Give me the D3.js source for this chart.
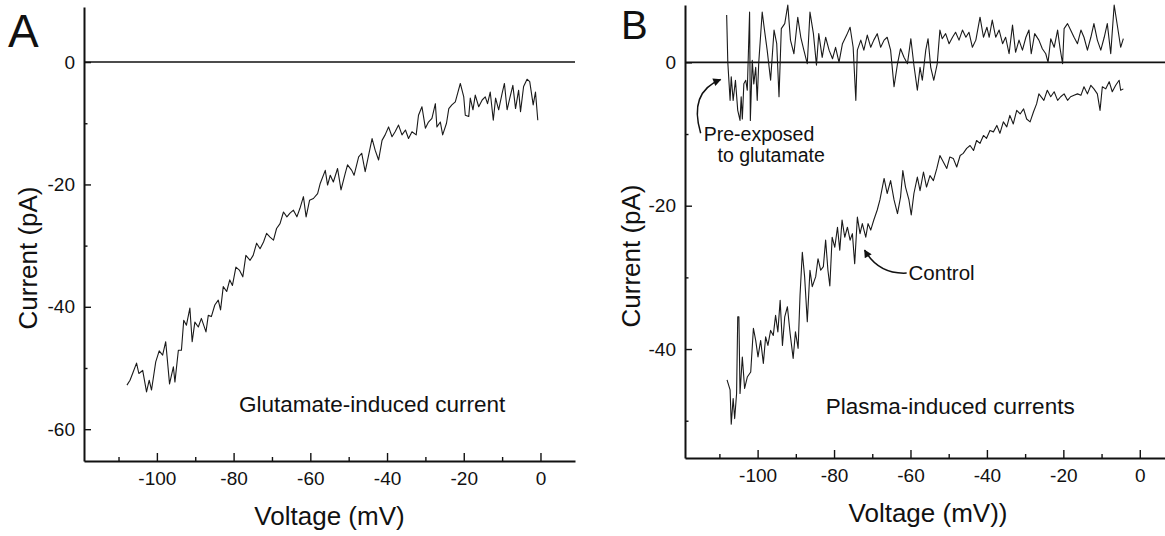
<!DOCTYPE html>
<html>
<head>
<meta charset="utf-8">
<script src="https://cdn.jsdelivr.net/npm/d3@7"></script>
<style>
  body { margin: 0; background: #fff; }
  svg text { font-family: "Liberation Sans", Arial, Helvetica, sans-serif; fill: #111; }
</style>
</head>
<body>
<div id="chart"></div>
<script>
// I-V traces: [voltage (mV), current (pA)]
const glutamateTrace = [
  [-107.8,-52.8],[-107.0,-52.0],[-106.2,-50.7],[-105.3,-49.2],[-104.7,-50.9],[-103.7,-50.4],
  [-102.7,-53.9],[-102.0,-52.0],[-101.4,-53.6],[-100.3,-49.0],[-99.4,-47.2],[-98.5,-47.9],
  [-97.7,-45.7],[-96.7,-52.6],[-95.7,-49.8],[-95.3,-52.3],[-94.4,-47.1],[-93.6,-47.1],
  [-93.0,-42.2],[-92.3,-43.0],[-91.4,-40.2],[-90.8,-45.7],[-90.1,-42.5],[-89.2,-43.3],
  [-88.4,-41.9],[-87.2,-44.1],[-86.6,-41.4],[-85.8,-41.6],[-84.9,-39.7],[-84.0,-38.9],
  [-83.4,-40.5],[-82.7,-36.7],[-81.8,-37.5],[-81.0,-35.6],[-80.3,-36.5],[-79.4,-33.5],
  [-78.5,-34.0],[-77.6,-35.1],[-76.8,-31.6],[-75.7,-32.4],[-74.9,-31.6],[-74.0,-29.6],
  [-73.1,-30.5],[-72.2,-29.4],[-71.4,-28.0],[-70.5,-28.6],[-69.6,-29.1],[-68.8,-27.2],
  [-67.9,-26.4],[-67.0,-24.5],[-66.1,-25.3],[-65.3,-24.7],[-64.4,-24.2],[-63.5,-25.3],
  [-62.7,-23.9],[-61.8,-22.0],[-61.1,-25.3],[-60.2,-22.6],[-59.2,-22.3],[-58.1,-21.5],
  [-57.4,-19.8],[-56.1,-17.7],[-55.5,-20.1],[-54.8,-18.5],[-54.0,-19.6],[-52.9,-17.4],
  [-52.0,-20.9],[-50.9,-18.2],[-50.3,-16.8],[-49.2,-17.7],[-48.6,-18.5],[-47.4,-15.5],
  [-46.6,-14.9],[-45.7,-17.9],[-44.8,-15.2],[-43.9,-12.5],[-43.1,-14.4],[-42.2,-16.0],
  [-41.3,-12.8],[-40.5,-11.9],[-39.6,-10.6],[-38.7,-12.2],[-37.9,-11.4],[-37.0,-10.3],
  [-36.1,-11.9],[-35.2,-11.1],[-34.4,-12.5],[-33.5,-11.4],[-32.4,-11.9],[-31.8,-8.7],
  [-30.9,-7.3],[-30.0,-10.8],[-29.2,-9.8],[-28.3,-9.2],[-27.4,-6.8],[-27.0,-10.6],
  [-26.1,-9.8],[-25.5,-11.9],[-24.5,-10.0],[-23.9,-7.6],[-23.1,-7.0],[-22.2,-6.5],
  [-21.6,-5.1],[-20.9,-3.5],[-20.0,-5.7],[-19.6,-8.7],[-18.7,-8.9],[-18.3,-5.9],
  [-17.6,-7.8],[-17.0,-5.4],[-16.1,-7.3],[-15.2,-6.2],[-14.4,-5.7],[-13.8,-6.8],
  [-13.1,-4.9],[-12.3,-9.5],[-11.7,-5.9],[-10.9,-7.8],[-10.0,-5.1],[-9.4,-3.5],
  [-8.7,-7.8],[-8.0,-5.9],[-7.2,-3.8],[-6.5,-7.6],[-5.7,-4.6],[-5.2,-8.1],
  [-4.4,-4.0],[-3.5,-2.8],[-2.8,-3.2],[-1.9,-7.0],[-1.3,-4.9],[-0.7,-9.5]
];

const preExposedTrace = [
  [-108.1,6.6],[-107.8,0.0],[-107.2,-5.3],[-106.9,-2.0],[-106.4,-5.3],[-105.8,-2.5],
  [-105.2,-6.7],[-104.6,-8.1],[-104.3,-4.8],[-104.0,-7.9],[-103.6,-3.0],[-103.1,-2.5],
  [-102.7,-3.9],[-102.1,7.0],[-101.9,-8.1],[-101.4,0.3],[-101.0,-3.0],[-100.5,-0.7],
  [-100.1,-5.3],[-99.7,0.0],[-98.8,7.0],[-98.2,4.5],[-97.5,1.7],[-96.6,-2.5],
  [-95.7,4.5],[-95.0,2.6],[-94.4,-4.8],[-93.8,4.7],[-92.9,5.4],[-92.1,8.0],
  [-91.4,3.1],[-90.5,1.2],[-89.5,6.3],[-88.7,3.5],[-87.9,1.7],[-87.0,-0.2],
  [-86.3,7.0],[-85.4,4.0],[-84.6,-0.4],[-84.0,4.0],[-83.1,0.7],[-82.2,3.5],
  [-81.3,1.7],[-80.4,0.5],[-79.6,2.1],[-78.7,0.0],[-77.8,2.6],[-76.7,3.8],
  [-75.8,4.9],[-75.0,2.1],[-74.3,-5.3],[-73.9,1.7],[-73.0,3.1],[-72.2,1.7],
  [-71.3,3.8],[-70.4,2.1],[-69.6,3.1],[-68.7,4.0],[-67.8,2.1],[-66.9,3.1],
  [-66.1,3.5],[-65.2,1.7],[-64.3,-3.4],[-63.4,-0.2],[-62.6,1.9],[-61.7,0.7],
  [-60.8,-0.2],[-59.9,3.3],[-59.1,-0.4],[-58.2,-3.9],[-57.5,-0.7],[-56.9,-2.5],
  [-56.0,1.7],[-55.4,3.3],[-54.7,-0.7],[-53.9,-2.5],[-53.0,-0.2],[-52.3,4.5],
  [-51.7,3.3],[-50.8,4.0],[-49.9,2.6],[-49.0,3.5],[-48.2,4.2],[-47.3,3.1],
  [-46.4,4.5],[-45.5,3.5],[-44.7,4.2],[-43.8,2.1],[-42.9,3.1],[-41.8,6.3],
  [-40.9,3.5],[-40.0,4.9],[-39.4,3.5],[-38.6,5.9],[-37.7,3.5],[-36.8,4.5],
  [-35.9,2.6],[-35.1,3.5],[-34.2,1.2],[-33.3,5.2],[-32.5,1.4],[-31.6,3.1],
  [-30.7,1.7],[-29.8,3.5],[-29.0,4.5],[-28.4,1.2],[-27.5,4.0],[-26.4,3.1],
  [-25.5,1.9],[-24.6,1.2],[-24.0,0.0],[-23.3,3.3],[-22.4,2.1],[-21.5,4.5],
  [-20.9,2.1],[-20.2,-0.2],[-19.8,4.7],[-18.9,5.4],[-18.1,4.5],[-17.2,3.5],
  [-16.3,2.6],[-15.4,4.5],[-14.6,3.5],[-13.7,1.7],[-12.8,3.5],[-12.0,5.4],
  [-11.1,3.1],[-10.2,1.7],[-9.3,3.5],[-8.5,5.4],[-7.6,1.2],[-6.7,8.0],
  [-5.8,4.9],[-5.0,2.1],[-4.3,3.3]
];

const controlTrace = [
  [-108.0,-44.3],[-107.2,-45.7],[-106.9,-50.5],[-106.4,-46.9],[-106.0,-49.7],[-105.5,-46.2],
  [-105.2,-35.5],[-104.9,-35.5],[-104.6,-46.2],[-104.0,-41.1],[-103.4,-45.5],[-102.7,-43.9],
  [-101.8,-43.2],[-101.1,-37.1],[-100.5,-38.8],[-99.9,-41.1],[-99.2,-38.8],[-98.5,-42.0],
  [-97.9,-38.3],[-97.3,-39.5],[-96.6,-37.4],[-95.9,-38.1],[-95.3,-35.3],[-94.7,-37.6],
  [-94.1,-33.2],[-93.5,-39.5],[-92.9,-35.5],[-92.2,-34.1],[-91.5,-37.8],[-90.7,-41.3],
  [-90.1,-37.6],[-89.4,-39.9],[-88.9,-32.5],[-88.3,-26.5],[-87.7,-29.9],[-87.0,-36.2],
  [-86.3,-29.0],[-85.7,-31.3],[-84.8,-29.9],[-84.2,-27.4],[-83.5,-29.0],[-82.8,-28.5],
  [-82.2,-24.8],[-81.6,-29.0],[-81.1,-31.2],[-80.5,-24.4],[-79.8,-25.8],[-79.1,-23.0],
  [-78.5,-26.2],[-77.9,-22.0],[-77.2,-24.4],[-76.5,-23.0],[-75.8,-24.8],[-75.2,-23.9],
  [-74.6,-28.1],[-73.9,-21.6],[-73.2,-23.9],[-72.6,-22.5],[-71.7,-24.4],[-71.1,-22.5],
  [-70.4,-23.4],[-69.6,-22.0],[-68.7,-20.6],[-68.0,-19.2],[-66.9,-16.2],[-66.1,-18.3],
  [-65.2,-16.5],[-64.3,-19.2],[-63.4,-21.1],[-62.6,-18.8],[-62.0,-15.1],[-61.3,-17.4],
  [-60.4,-19.2],[-59.8,-21.3],[-59.1,-18.3],[-58.2,-16.0],[-57.5,-17.9],[-56.6,-15.3],
  [-55.8,-17.4],[-54.9,-15.8],[-54.0,-16.5],[-53.1,-14.8],[-52.3,-13.0],[-51.4,-13.9],
  [-50.5,-14.8],[-49.7,-13.2],[-48.8,-13.4],[-47.9,-14.6],[-47.0,-13.0],[-46.2,-12.7],
  [-45.3,-12.0],[-44.4,-11.6],[-43.5,-12.3],[-42.7,-10.9],[-41.8,-11.3],[-40.9,-10.2],
  [-40.1,-10.6],[-39.2,-9.5],[-38.3,-9.7],[-37.4,-8.8],[-36.6,-9.9],[-35.7,-8.3],
  [-34.8,-9.0],[-34.0,-7.4],[-33.1,-8.6],[-32.2,-6.7],[-31.3,-7.2],[-30.4,-6.5],
  [-29.6,-7.9],[-28.7,-8.3],[-27.8,-6.9],[-27.0,-5.8],[-26.4,-4.4],[-25.1,-5.3],
  [-24.2,-3.9],[-23.3,-4.8],[-22.4,-4.1],[-21.5,-5.3],[-20.7,-4.8],[-19.8,-4.4],
  [-18.9,-5.3],[-18.1,-4.8],[-17.2,-4.6],[-16.3,-4.4],[-15.4,-4.6],[-14.6,-3.4],
  [-13.7,-4.4],[-12.8,-3.2],[-12.0,-3.7],[-11.1,-4.4],[-10.4,-6.7],[-9.8,-3.4],
  [-8.9,-3.7],[-8.0,-2.7],[-7.2,-4.1],[-6.3,-3.2],[-5.4,-2.5],[-5.0,-3.9],[-4.3,-3.7]
];

// Tick values
const xTicks = [-100, -80, -60, -40, -20, 0];
const xMinorTicks = [-110, -90, -70, -50, -30, -10];
const yTicksA = [-60, -40, -20, 0];
const yTicksB = [-40, -20, 0];
const yMinorTicks = [-50, -30, -10];

const width = 1165;
const height = 536;

const svg = d3.select('#chart')
  .append('svg')
  .attr('width', width)
  .attr('height', height);

// Arrowhead used by the annotation arrows
svg.append('defs').append('marker')
  .attr('id', 'arrow')
  .attr('viewBox', '0 0 10 10')
  .attr('refX', 9)
  .attr('refY', 5)
  .attr('markerWidth', 10)
  .attr('markerHeight', 8)
  .attr('markerUnits', 'userSpaceOnUse')
  .attr('orient', 'auto')
  .append('path')
  .attr('d', 'M0,0 L10,5 L0,10 z')
  .attr('fill', '#111');

function styleAxis(g) {
  g.select('.domain').attr('stroke', '#111').attr('stroke-width', 2);
  g.selectAll('.tick line').attr('stroke', '#111').attr('stroke-width', 1.4);
  g.selectAll('.tick text')
    .attr('font-size', 19)
    .attr('font-family', '"Liberation Sans", Arial, sans-serif')
    .attr('fill', '#111');
}

function drawPanel(p) {
  const x = d3.scaleLinear().domain(p.xDomain).range(p.xRange);
  const y = d3.scaleLinear().domain(p.yDomain).range(p.yRange);
  const g = svg.append('g');

  // Zero current reference line
  g.append('line')
    .attr('x1', p.xRange[0]).attr('x2', p.xRange[1])
    .attr('y1', y(0)).attr('y2', y(0))
    .attr('stroke', '#111')
    .attr('stroke-width', 1.6);

  // Axes (ticks point into the plot)
  const xAxis = g.append('g')
    .attr('transform', `translate(0,${p.yRange[0]})`)
    .call(d3.axisBottom(x).tickValues(xTicks).tickSizeInner(-8).tickSizeOuter(0)
      .tickPadding(11).tickFormat(d => String(d)));
  styleAxis(xAxis);

  g.append('g')
    .attr('transform', `translate(0,${p.yRange[0]})`)
    .call(d3.axisBottom(x).tickValues(xMinorTicks).tickSize(-4).tickFormat(''))
    .call(a => a.select('.domain').remove())
    .call(a => a.selectAll('line').attr('stroke', '#111').attr('stroke-width', 1.4));

  const yAxis = g.append('g')
    .attr('transform', `translate(${p.xRange[0]},0)`)
    .call(d3.axisLeft(y).tickValues(p.yTicks).tickSizeInner(-7).tickSizeOuter(0)
      .tickPadding(9).tickFormat(d => String(d)));
  styleAxis(yAxis);

  g.append('g')
    .attr('transform', `translate(${p.xRange[0]},0)`)
    .call(d3.axisLeft(y).tickValues(yMinorTicks).tickSize(-3.5).tickFormat(''))
    .call(a => a.select('.domain').remove())
    .call(a => a.selectAll('line').attr('stroke', '#111').attr('stroke-width', 1.4));

  // Traces
  const line = d3.line()
    .x(d => x(d[0]))
    .y(d => y(d[1]));

  p.traces.forEach(t => {
    g.append('path')
      .datum(t)
      .attr('fill', 'none')
      .attr('stroke', '#1a1a1a')
      .attr('stroke-width', 1.1)
      .attr('stroke-linejoin', 'round')
      .attr('d', line);
  });

  // Axis titles
  g.append('text')
    .attr('x', (p.xRange[0] + p.xRange[1]) / 2 + p.xTitleShift)
    .attr('y', p.yRange[0] + 64)
    .attr('text-anchor', 'middle')
    .attr('font-size', 26)
    .text(p.xTitle);

  g.append('text')
    .attr('transform', `translate(${p.xRange[0] - p.yTitleGap},${p.yTitleCenter}) rotate(-90)`)
    .attr('text-anchor', 'middle')
    .attr('font-size', 26)
    .text('Current (pA)');

  // Panel letter
  g.append('text')
    .attr('x', p.letterPos[0])
    .attr('y', p.letterPos[1])
    .attr('font-size', p.letterSize)
    .text(p.letter);

  // Text notes, placed in data units
  p.notes.forEach(n => {
    g.append('text')
      .attr('x', x(n.v))
      .attr('y', y(n.i))
      .attr('text-anchor', n.anchor || 'start')
      .attr('font-size', n.size)
      .text(n.text);
  });

  // Curved arrows, placed in data units
  p.arrows.forEach(a => {
    const path = d3.path();
    path.moveTo(x(a.from[0]), y(a.from[1]));
    path.quadraticCurveTo(x(a.ctrl[0]), y(a.ctrl[1]), x(a.to[0]), y(a.to[1]));
    g.append('path')
      .attr('d', path.toString())
      .attr('fill', 'none')
      .attr('stroke', '#111')
      .attr('stroke-width', 1.5)
      .attr('marker-end', 'url(#arrow)');
  });
}

drawPanel({
  letter: 'A', letterPos: [8, 47], letterSize: 46,
  xDomain: [-119, 9], xRange: [84, 575],
  yDomain: [-65.2, 9], yRange: [461, 7],
  yTicks: yTicksA,
  xTitle: 'Voltage (mV)', xTitleShift: 0,
  yTitleGap: 47, yTitleCenter: 258,
  traces: [glutamateTrace],
  notes: [
    { text: 'Glutamate-induced current', v: -43.9, i: -57.2, anchor: 'middle', size: 22.5 }
  ],
  arrows: []
});

drawPanel({
  letter: 'B', letterPos: [621, 39], letterSize: 40,
  xDomain: [-119, 6.6], xRange: [685, 1165],
  yDomain: [-55.2, 8], yRange: [458, 5],
  yTicks: yTicksB,
  xTitle: 'Voltage (mV))', xTitleShift: 3,
  yTitleGap: 45, yTitleCenter: 256,
  traces: [preExposedTrace, controlTrace],
  notes: [
    { text: 'Pre-exposed', v: -114.1, i: -10.95, size: 19.5 },
    { text: 'to glutamate', v: -110.5, i: -13.95, size: 19.5 },
    { text: 'Control', v: -60.5, i: -30.4, size: 20.5 },
    { text: 'Plasma-induced currents', v: -49.6, i: -49.0, anchor: 'middle', size: 22.5 }
  ],
  arrows: [
    { from: [-114.9, -9.9], ctrl: [-118.1, -4.2], to: [-109.7, -2.4] },
    { from: [-61.0, -29.4], ctrl: [-68.3, -29.6], to: [-72.0, -26.2] }
  ]
});
</script>
</body>
</html>
